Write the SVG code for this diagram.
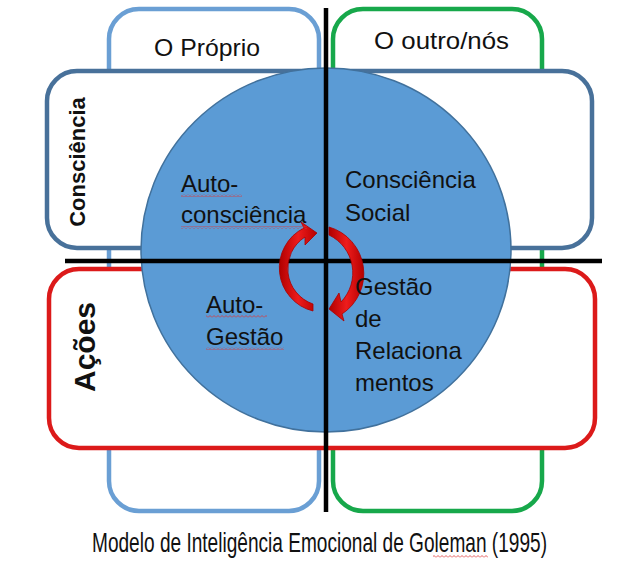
<svg xmlns="http://www.w3.org/2000/svg" width="633" height="563" viewBox="0 0 633 563">
<defs>
<style>
.box{fill:#fff;stroke-width:4.5}
.lbl{font-family:"Liberation Sans",Arial,sans-serif;font-size:24px;fill:#111}
.ttl{font-family:"Liberation Sans",Arial,sans-serif;font-weight:bold;fill:#111}
.blk{stroke:#000;stroke-width:4.5}
.wave{fill:url(#wv)}
.arr{fill:url(#rg);stroke:#a00;stroke-width:0.8}
</style>
<pattern id="wv" width="4" height="3" patternUnits="userSpaceOnUse">
<polyline points="0,2.5 2,0.5 4,2.5" fill="none" stroke="#d33" stroke-width="0.8"/>
</pattern>
<linearGradient id="rg" x1="0" y1="0" x2="1" y2="0">
<stop offset="0" stop-color="#b00000"/>
<stop offset="0.5" stop-color="#ee1c1c"/>
<stop offset="1" stop-color="#b50000"/>
</linearGradient>
</defs>
<rect width="633" height="563" fill="#fff"/>
<g id="col-proprio"><rect class="box" x="109" y="9" width="210" height="502" rx="30" stroke="#6a9fd4"/></g>
<g id="col-outro"><rect class="box" x="333" y="9" width="209" height="502" rx="30" stroke="#17a84b"/></g>
<g id="row-consciencia"><rect class="box" x="47" y="71" width="545" height="177" rx="30" stroke="#48719a"/></g>
<g id="row-acoes"><rect class="box" x="49" y="269" width="546" height="179" rx="30" stroke="#dc1a1a"/></g>
<g id="circle"><ellipse cx="326" cy="250" rx="185" ry="182" fill="#5b9bd5" stroke="#41719c" stroke-width="1.5"/></g>
<g id="connectors">
<line class="blk" x1="326" y1="8" x2="326" y2="512"/>
<line class="blk" x1="65" y1="261" x2="602" y2="261"/>
<path class="arr" d="M313 311 A44.5 44.5 0 0 1 304 228 L301 222 L317 233 L305 245 L305 237 A37.5 37.5 0 0 0 313 304 Z"/>
<path class="arr" d="M329 227 A48.5 48.5 0 0 1 342 314 L344 321 L329 309 L339 293 L341 302 A42 42 0 0 0 329 235 Z"/>
</g>
<g id="labels">
<text class="lbl" x="154" y="56" textLength="106" lengthAdjust="spacingAndGlyphs">O Próprio</text>
<text class="lbl" x="374" y="49" textLength="135" lengthAdjust="spacingAndGlyphs">O outro/nós</text>
<text class="ttl" font-size="22" transform="translate(85 162) rotate(-90)" text-anchor="middle">Consciência</text>
<text class="ttl" font-size="30" transform="translate(95 347) rotate(-90)" text-anchor="middle">Ações</text>
<text class="lbl" x="181" y="192">Auto-</text>
<text class="lbl" x="181" y="223">consciência</text>
<text class="lbl" x="345" y="188">Consciência</text>
<text class="lbl" x="345" y="221">Social</text>
<text class="lbl" x="206" y="313">Auto-</text>
<text class="lbl" x="206" y="345">Gestão</text>
<text class="lbl" x="355" y="295">Gestão</text>
<text class="lbl" x="355" y="327">de</text>
<text class="lbl" x="355" y="359">Relaciona</text>
<text class="lbl" x="355" y="391">mentos</text>
<g transform="translate(92 552) scale(0.65 1)">
<text x="0" y="0" font-family="'Liberation Sans',Arial,sans-serif" font-size="27" fill="#111" textLength="700" lengthAdjust="spacingAndGlyphs">Modelo de Inteligência Emocional de Goleman (1995)</text>
</g>
</g>
<g id="spellcheck">
<rect class="wave" x="181" y="194" width="61" height="3"/>
<rect class="wave" x="181" y="226" width="126" height="3"/>
<rect class="wave" x="206" y="315" width="61" height="3"/>
<rect class="wave" x="206" y="347" width="78" height="3"/>
<rect class="wave" x="433" y="555" width="55" height="3"/>
</g>
</svg>
